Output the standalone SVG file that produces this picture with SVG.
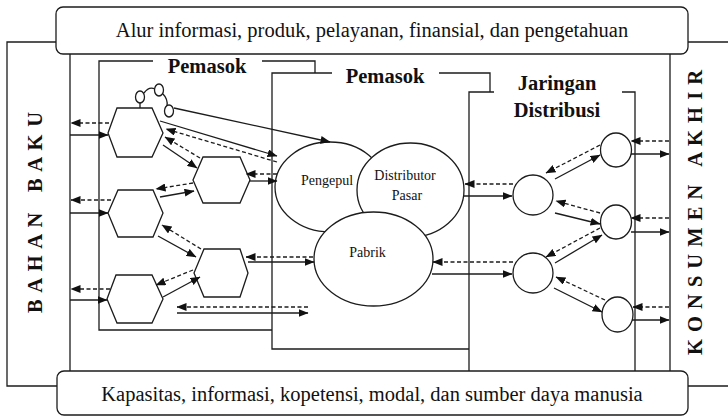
<svg xmlns="http://www.w3.org/2000/svg" width="728" height="417" viewBox="0 0 728 417">
<defs>
<marker id="ah" viewBox="0 0 10 8" refX="9.5" refY="4" markerWidth="10" markerHeight="8" markerUnits="userSpaceOnUse" orient="auto"><path d="M0,0L10,4L0,8z" fill="#111"/></marker>
<style>
.ln{fill:none;stroke:#1c1c1c;stroke-width:1.3}
.sol{fill:none;stroke:#1c1c1c;stroke-width:1.3;marker-end:url(#ah)}
.dsh{fill:none;stroke:#1c1c1c;stroke-width:1.3;stroke-dasharray:4 2.5;marker-end:url(#ah)}
.nd{fill:#fff;stroke:#1c1c1c;stroke-width:1.3}
.big{font-size:20.5px;fill:#111;text-anchor:middle}
.hd{font-size:20.5px;font-weight:bold;fill:#111;text-anchor:middle}
.sm{font-size:14px;fill:#111;text-anchor:middle}
</style>
</defs>
<rect width="728" height="417" fill="#fff"/>

<g id="frame">
<path class="ln" d="M730,42H7V386H730"/>
<path class="ln" d="M70,54V371M670,54V371"/>
</g>

<g font-family="'Liberation Serif', 'Times New Roman', 'DejaVu Serif', serif">
<g id="box-top">
<rect class="nd" x="56" y="7" width="632" height="47" rx="7"/>
<text class="big" x="372" y="37">Alur informasi, produk, pelayanan, finansial, dan pengetahuan</text>
</g>
<g id="box-bottom">
<rect class="nd" x="57" y="371" width="631" height="44" rx="7"/>
<text class="big" x="372" y="401">Kapasitas, informasi, kopetensi, modal, dan sumber daya manusia</text>
</g>

<g id="bahan-baku">
<text class="hd" xml:space="preserve" transform="translate(42,212.5) rotate(-90)" textLength="201" lengthAdjust="spacing">B A H A N   B A K U</text>
</g>
<g id="konsumen-akhir">
<text class="hd" xml:space="preserve" transform="translate(702,212.5) rotate(-90)" textLength="285" lengthAdjust="spacing">K O N S U M E N   A K H I R</text>
</g>

<g id="pemasok-1">
<path class="ln" d="M153,61H99V330H272M262,61H315V73"/>
<text class="hd" x="207" y="73">Pemasok</text>
</g>
<g id="pemasok-2">
<path class="ln" d="M332,73H272V349H469M439,73H490V92"/>
<text class="hd" x="385" y="83">Pemasok</text>
</g>
<g id="jaringan-distribusi">
<path class="ln" d="M494,92H469V371M622,92H635V371"/>
<text class="hd" x="557" y="90">Jaringan</text>
<text class="hd" x="557" y="117">Distribusi</text>
</g>

<g id="hex1"><polygon class="nd" points="108,133 117,108 152,108 163,133 152,157 117,157"/></g>
<g id="hex2"><polygon class="nd" points="193,180 203,157 240,157 250,180 240,203 203,203"/></g>
<g id="hex3"><polygon class="nd" points="108,213 118,190 153,190 163,213 153,237 118,237"/></g>
<g id="hex4"><polygon class="nd" points="194,273 204,249 240,249 248,273 240,297 204,297"/></g>
<g id="hex5"><polygon class="nd" points="107,299 116,275 152,275 163,299 152,323 117,323"/></g>

<g id="small-nodes">
<path class="ln" d="M140,108V103M144,93Q149,86 155,89M163,94Q168,99 167,106"/>
<ellipse class="nd" cx="140" cy="97" rx="4.5" ry="6"/>
<ellipse class="nd" cx="159" cy="90" rx="4.5" ry="6"/>
<ellipse class="nd" cx="169" cy="111" rx="4.5" ry="6"/>
</g>

<g id="pengepul">
<ellipse class="nd" cx="330" cy="187" rx="55" ry="45"/>
<text class="sm" x="327" y="185">Pengepul</text>
</g>
<g id="distributor-pasar">
<ellipse class="nd" cx="410.5" cy="190" rx="53.5" ry="47"/>
<text class="sm" x="405" y="180">Distributor</text>
<text class="sm" x="407" y="200">Pasar</text>
</g>
<g id="pabrik">
<ellipse class="nd" cx="373.5" cy="259" rx="59.5" ry="47"/>
<text class="sm" x="367.5" y="257">Pabrik</text>
</g>
</g>

<g id="c1"><circle class="nd" cx="533" cy="195" r="20"/></g>
<g id="c2"><circle class="nd" cx="533" cy="273" r="20"/></g>
<g id="r1"><ellipse class="nd" cx="616" cy="150" rx="15.5" ry="17"/></g>
<g id="r2"><ellipse class="nd" cx="616" cy="222" rx="15.5" ry="17"/></g>
<g id="r3"><ellipse class="nd" cx="617.5" cy="314.5" rx="15.5" ry="17.5"/></g>

<g id="connectors">
<path class="dsh" d="M109,123H71"/>
<path class="sol" d="M70,135H108"/>
<path class="dsh" d="M111,200H71"/>
<path class="sol" d="M70,213H108"/>
<path class="dsh" d="M110,289H71"/>
<path class="sol" d="M70,300H107"/>
<path class="dsh" d="M200,158L165,137"/>
<path class="sol" d="M163,145L197,168"/>
<path class="dsh" d="M193,183L156,189"/>
<path class="sol" d="M160,197L194,191"/>
<path class="dsh" d="M201,249L162,225"/>
<path class="sol" d="M158,236L196,257"/>
<path class="dsh" d="M193,270L156,285"/>
<path class="sol" d="M163,297L200,277"/>
<path class="sol" d="M174,108L330,142"/>
<path class="sol" d="M160,121L277,156"/>
<path class="dsh" d="M277,162L166,129"/>
<path class="dsh" d="M277,174H246"/>
<path class="sol" d="M249,181H277"/>
<path class="dsh" d="M313,257H246"/>
<path class="sol" d="M248,262H314"/>
<path class="dsh" d="M308,307H177"/>
<path class="sol" d="M177,313H308"/>
<path class="dsh" d="M513,184H465"/>
<path class="sol" d="M463,196H512"/>
<path class="dsh" d="M513,262H433"/>
<path class="sol" d="M432,274H512"/>
<path class="dsh" d="M600,145L546,173"/>
<path class="sol" d="M555,179L600,155"/>
<path class="dsh" d="M600,213L556,201"/>
<path class="sol" d="M555,213L600,224"/>
<path class="dsh" d="M600,228L546,257"/>
<path class="sol" d="M555,263L602,235"/>
<path class="dsh" d="M605,300L556,277"/>
<path class="sol" d="M554,288L602,312"/>
<path class="dsh" d="M669,141H631"/>
<path class="sol" d="M631,154H669"/>
<path class="dsh" d="M669,218H631"/>
<path class="sol" d="M631,232H669"/>
<path class="dsh" d="M669,307H633"/>
<path class="sol" d="M632,320H669"/>
</g>
</svg>
